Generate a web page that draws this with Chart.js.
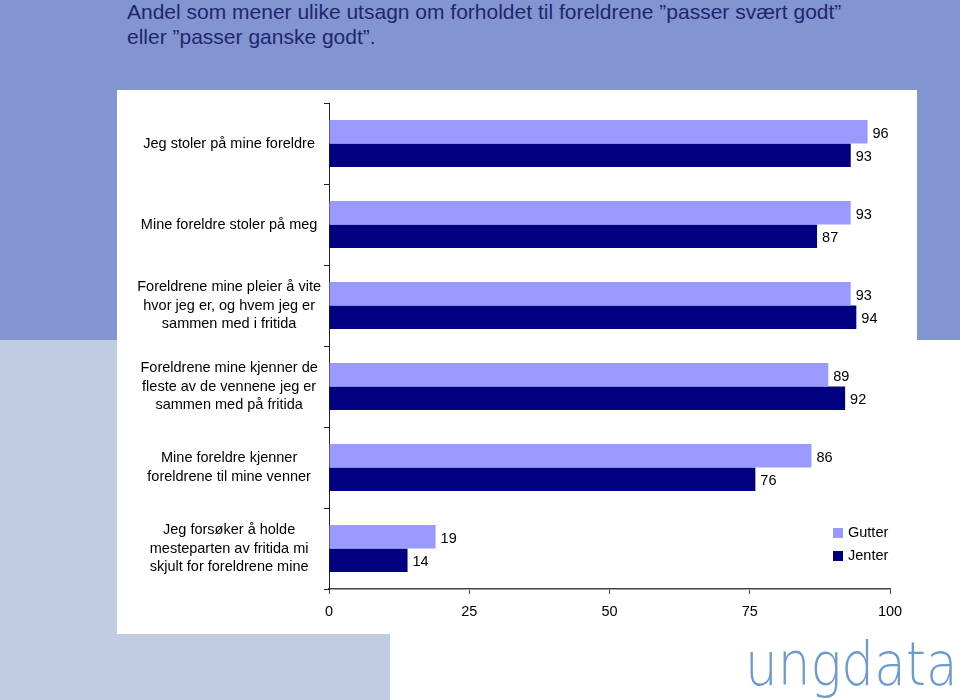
<!DOCTYPE html>
<html>
<head>
<meta charset="utf-8">
<script src="https://cdn.jsdelivr.net/npm/chart.js@4/dist/chart.umd.min.js"></script>
<style>
  body { margin: 0; width: 960px; height: 700px; position: relative; overflow: hidden; background: #fff; font-family: "Liberation Sans", Arial, sans-serif; }
  #top { position: absolute; left: 0; top: 0; width: 960px; height: 340px; background: #8395d0; }
  #side { position: absolute; left: 0; top: 340px; width: 390px; height: 360px; background: #c2cce0; }
  #title { position: absolute; left: 127px; top: -1px; font-size: 21px; line-height: 25px; color: #1e2670; }
  #panel { position: absolute; left: 117px; top: 90px; width: 800px; height: 544px; background: #fff; }
  #logo { position: absolute; left: 745px; top: 634px; font-family: "DejaVu Sans", sans-serif; font-weight: 200; font-size: 60px; line-height: 60px; color: #6d9bd0; transform: scaleX(0.86); transform-origin: left top; white-space: nowrap; }
</style>
</head>
<body>
<div id="top"></div>
<div id="side"></div>
<div id="title">Andel som mener ulike utsagn om forholdet til foreldrene ”passer svært godt”<br>eller ”passer ganske godt”.</div>
<div id="panel"><canvas id="myChart" width="800" height="544"></canvas></div>
<div id="logo">ungdata</div>
<script>
// data
const categories = [
  ["Jeg stoler på mine foreldre"],
  ["Mine foreldre stoler på meg"],
  ["Foreldrene mine pleier å vite", "hvor jeg er, og hvem jeg er", "sammen med i fritida"],
  ["Foreldrene mine kjenner de", "fleste av de vennene jeg er", "sammen med på fritida"],
  ["Mine foreldre kjenner", "foreldrene til mine venner"],
  ["Jeg forsøker å holde", "mesteparten av fritida mi", "skjult for foreldrene mine"],
];
const seriesNames = ["Gutter", "Jenter"];
const gutter = [96, 93, 93, 89, 86, 19];
const jenter = [93, 87, 94, 92, 76, 14];
const xTicks = [0, 25, 50, 75, 100];

const colors = ["#9999ff", "#000080"];
const font = "'Liberation Sans', Arial, sans-serif";
const fontSize = 14.5;

// value labels to the right of each bar
const valueLabels = {
  id: "valueLabels",
  afterDatasetsDraw(chart) {
    const ctx = chart.ctx;
    ctx.save();
    ctx.font = fontSize + "px " + font;
    ctx.fillStyle = "#000";
    ctx.textBaseline = "middle";
    ctx.textAlign = "left";
    chart.data.datasets.forEach((ds, i) => {
      chart.getDatasetMeta(i).data.forEach((bar, j) => {
        ctx.fillText(ds.data[j], bar.x + 5, bar.y + 2);
      });
    });
    ctx.restore();
  },
};

// legend inside plot, lower right
const boxLegend = {
  id: "boxLegend",
  afterDraw(chart) {
    const ctx = chart.ctx;
    ctx.save();
    ctx.font = fontSize + "px " + font;
    ctx.textBaseline = "middle";
    chart.data.datasets.forEach((ds, i) => {
      let y = 438 + i * 23;
      ctx.fillStyle = ds.backgroundColor;
      ctx.fillRect(716, y, 10, 10);
      ctx.fillStyle = "#000";
      ctx.fillText(ds.label, 731, y + 5);
    });
    ctx.restore();
  },
};

const ctx = document.getElementById("myChart").getContext("2d");
const myChart = new Chart(ctx, {
  type: "bar",
  data: {
    labels: categories,
    datasets: [
      { label: seriesNames[0], data: gutter, backgroundColor: colors[0] },
      { label: seriesNames[1], data: jenter, backgroundColor: colors[1] },
    ],
  },
  options: {
    indexAxis: "y",
    responsive: false,
    animation: false,
    categoryPercentage: 0.58,
    barPercentage: 1.0,
    layout: { padding: { top: 13, right: 27, left: 0, bottom: 0 } },
    plugins: {
      legend: { display: false },
      tooltip: { enabled: false },
    },
    scales: {
      x: {
        min: 0,
        max: 100,
        afterBuildTicks: (s) => {
          s.ticks = xTicks.map((v) => ({ value: v }));
        },
        afterFit: (s) => {
          s.height = 45;
        },
        grid: { drawOnChartArea: false, drawTicks: true, tickLength: 5, color: "#444" },
        border: { display: true, color: "#444", width: 1.5 },
        ticks: { color: "#000", padding: 9, font: { family: font, size: fontSize } },
      },
      y: {
        afterFit: (s) => {
          s.width = 212;
          s.paddingTop = 0;
          s.paddingBottom = 0;
        },
        grid: { drawOnChartArea: false, drawTicks: true, tickLength: 5, color: "#222" },
        border: { display: true, color: "#222", width: 1 },
        ticks: {
          color: "#000",
          padding: 3,
          crossAlign: "center",
          font: { family: font, size: fontSize, lineHeight: 1.3 },
        },
      },
    },
  },
  plugins: [valueLabels, boxLegend],
});
</script>
</body>
</html>
